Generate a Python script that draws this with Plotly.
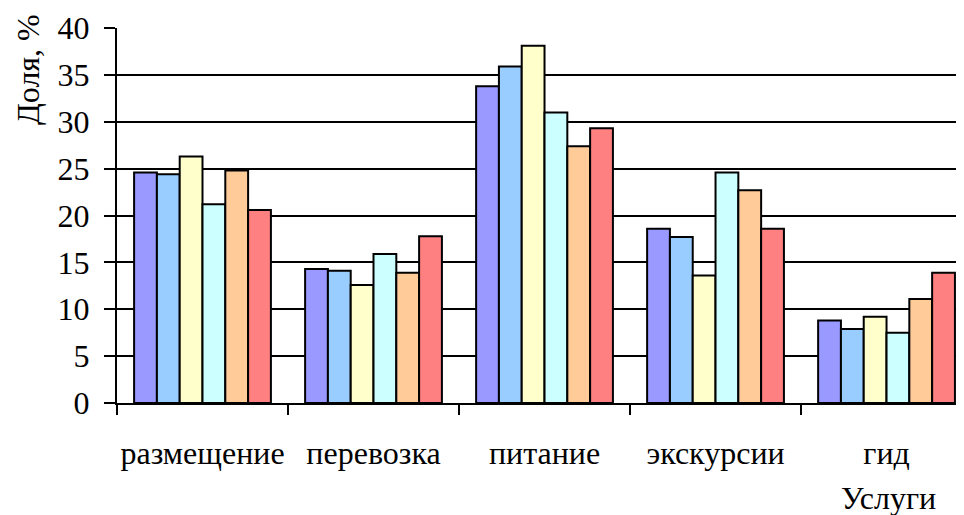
import plotly.graph_objects as go

categories = ["размещение", "перевозка", "питание", "экскурсии", "гид"]
series_names = ["Ряд 1", "Ряд 2", "Ряд 3", "Ряд 4", "Ряд 5", "Ряд 6"]
values = [
    [24.6, 14.3, 33.8, 18.6, 8.8],
    [24.4, 14.1, 35.9, 17.7, 7.9],
    [26.3, 12.6, 38.1, 13.6, 9.2],
    [21.2, 15.9, 31.0, 24.6, 7.5],
    [24.8, 13.9, 27.4, 22.7, 11.1],
    [20.6, 17.8, 29.3, 18.6, 13.9],
]
colors = ["#9999FF", "#99CCFF", "#FFFFCC", "#CCFFFF", "#FFCC99", "#FF8080"]
y_ticks = [0, 5, 10, 15, 20, 25, 30, 35, 40]

FONT = "Liberation Serif, Times New Roman, serif"
W, H = 956, 507
ML, MT, MB, MR = 109, 20, 112, 0
PW = W - ML - MR

fig = go.Figure()
for name, vals, col in zip(series_names, values, colors):
    fig.add_trace(go.Bar(
        x=categories, y=vals, name=name,
        marker=dict(color=col, line=dict(color="black", width=2)),
    ))

fig.update_layout(
    width=W, height=H,
    margin=dict(l=ML, r=MR, t=MT, b=MB, autoexpand=False),
    paper_bgcolor="white", plot_bgcolor="white",
    barmode="group", bargap=0.2, bargroupgap=0,
    showlegend=False,
    font=dict(family=FONT, size=32, color="black"),
)
fig.update_xaxes(
    type="category", range=[-0.5, 4.453],
    showline=True, linecolor="black", linewidth=2,
    ticks="outside", tickson="boundaries", ticklen=10, tickwidth=2, tickcolor="black",
    showgrid=False, ticklabelstandoff=21, tickangle=0,
    tickfont=dict(family=FONT, size=32, color="black"),
)
fig.update_yaxes(
    range=[0, 40], tickvals=y_ticks,
    showline=True, linecolor="black", linewidth=2,
    ticks="outside", ticklen=11, tickwidth=2, tickcolor="black",
    showgrid=True, gridcolor="black", gridwidth=2,
    zeroline=False, ticklabelstandoff=8,
    tickfont=dict(family=FONT, size=32, color="black"),
)
fig.add_annotation(
    text="Доля, %", xref="paper", yref="paper",
    x=(20 - ML) / PW, y=1.0, yshift=-42,
    xanchor="center", yanchor="middle", textangle=-90, showarrow=False,
    font=dict(family=FONT, size=32, color="black"),
)
fig.add_annotation(
    text="Услуги", xref="paper", yref="paper",
    x=1.0, y=0, xshift=-26, yshift=-95,
    xanchor="right", yanchor="middle", showarrow=False,
    font=dict(family=FONT, size=32, color="black"),
)

fig.write_html("out.html")
